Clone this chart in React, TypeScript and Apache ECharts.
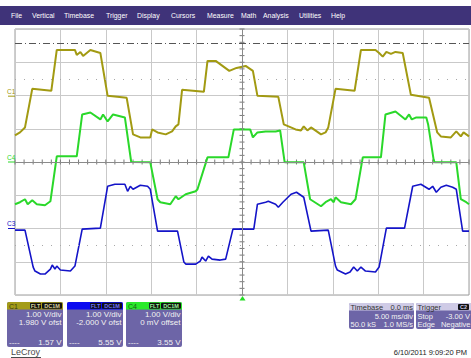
import { useEffect, useRef } from "react";
import * as echarts from "echarts";

// Scope menu
const MENU_ITEMS = ["File", "Vertical", "Timebase", "Trigger", "Display", "Cursors", "Measure", "Math", "Analysis", "Utilities", "Help"];
const MENU_X = [11, 32, 64, 106, 137, 171, 207, 241, 263, 299, 331];

// Channel settings (V/div = 1.00 for all shown channels)
const C1_OFFSET = 1.98;
const C3_OFFSET = -2.0;
const C4_OFFSET = 0;
const TRIGGER_LEVEL_DIV = 3.58;

// Captured traces: [time ms, volts]
const c1Trace: [number, number][] = [
  [-25.0, -1.18], [-24.45, -1.09], [-23.9, -0.94], [-23.1, 0.22], [-21.0, 0.16], [-20.4, 1.39],
  [-18.4, 1.39], [-18.2, 1.24], [-17.8, 1.33], [-17.5, 1.21], [-16.7, 1.39], [-15.6, 1.30],
  [-14.8, 0.01], [-12.7, -0.05], [-12.0, -1.15], [-11.2, -1.24], [-10.1, -1.24], [-9.9, -1.0],
  [-9.3, -1.09], [-8.4, -1.15], [-7.7, -1.06], [-7.3, -0.91], [-7.0, -0.85], [-6.6, 0.19],
  [-4.2, 0.13], [-3.8, 1.06], [-2.9, 1.06], [-1.4, 0.76], [-0.6, 0.85], [0.4, 0.91], [1.2, 0.76],
  [1.7, 0.01], [4.0, -0.02], [4.6, -0.85], [5.9, -1.0], [6.5, -1.03], [6.8, -0.91], [7.2, -1.03],
  [7.6, -0.94], [8.7, -1.15], [9.2, -1.09], [9.5, -0.94], [10.3, 0.22], [12.4, 0.16], [13.1, 1.39],
  [14.7, 1.39], [15.1, 1.30], [15.5, 1.19], [15.9, 1.33], [16.4, 1.27], [16.9, 1.33], [17.7, 1.30],
  [18.6, 0.04], [20.6, -0.05], [21.5, -1.09], [21.9, -1.21], [23.0, -1.24], [23.6, -1.06],
  [24.1, -1.21], [24.4, -1.09], [25.0, -1.21],
];

const c4Trace: [number, number][] = [
  [-25.0, -1.27], [-24.45, -1.21], [-23.9, -1.12], [-23.6, -1.27], [-23.1, -1.15], [-22.6, -1.27],
  [-21.7, -1.30], [-21.1, -1.18], [-20.4, 0.17], [-18.2, 0.17], [-17.6, 1.43], [-16.7, 1.49],
  [-15.6, 1.28], [-15.3, 1.43], [-14.8, 1.22], [-14.2, 1.43], [-12.9, 1.34], [-12.2, 0.0],
  [-10.1, -0.01], [-9.3, -1.12], [-9.0, -1.21], [-7.9, -1.27], [-7.3, -1.03], [-7.0, -1.12],
  [-6.2, -0.97], [-5.1, -0.88], [-4.9, -0.82], [-3.8, 0.14], [-1.5, 0.14], [-0.9, 0.98],
  [0.4, 0.98], [0.9, 0.98], [1.2, 0.74], [1.7, 0.89], [2.6, 0.92], [3.7, 0.92], [4.2, 0.95],
  [4.7, -0.01], [6.8, -0.01], [7.5, -1.12], [8.7, -1.33], [9.2, -1.21], [9.8, -1.12], [10.1, -1.21],
  [10.3, -1.06], [10.9, -1.21], [12.0, -1.27], [12.5, -1.12], [13.3, 0.14], [15.3, 0.14],
  [15.8, 1.43], [16.9, 1.52], [18.0, 1.28], [18.4, 1.43], [18.7, 1.28], [19.2, 1.34], [20.3, 1.34],
  [20.5, 1.13], [21.1, 0.08], [21.2, -0.01], [23.6, -0.01], [24.1, -1.12], [24.7, -1.21], [25.0, -1.27],
];

const c3Trace: [number, number][] = [
  [-25.0, -0.05], [-23.9, -0.05], [-23.0, -1.16], [-22.8, -1.28], [-22.2, -1.37], [-21.7, -1.37],
  [-21.1, -1.22], [-20.9, -1.10], [-20.6, -1.22], [-20.4, -1.13], [-20.0, -1.25], [-18.9, -1.28],
  [-18.4, -1.13], [-17.6, -0.02], [-15.6, 0.01], [-14.8, 1.27], [-14.0, 1.33], [-12.9, 1.33],
  [-12.6, 1.12], [-12.3, 1.27], [-12.0, 1.18], [-11.2, 1.30], [-10.4, 1.27], [-10.1, 1.18],
  [-9.3, -0.08], [-7.1, -0.08], [-6.4, -1.01], [-6.2, -1.07], [-5.1, -1.07], [-4.6, -0.98],
  [-4.4, -0.86], [-4.0, -0.98], [-3.7, -0.83], [-3.3, -0.92], [-2.4, -0.95], [-1.8, -0.92],
  [-1.0, -0.02], [1.3, -0.02], [1.7, 0.73], [2.6, 0.79], [2.9, 0.82], [3.7, 0.73], [4.0, 0.64],
  [4.5, 0.79], [5.4, 1.03], [6.0, 1.09], [6.8, 0.94], [7.6, -0.08], [9.5, -0.05], [10.3, -1.13],
  [10.5, -1.25], [11.4, -1.37], [11.9, -1.31], [12.3, -1.16], [12.7, -1.28], [13.1, -1.16],
  [13.6, -1.28], [14.7, -1.31], [15.1, -1.16], [15.9, 0.01], [17.9, 0.01], [18.8, 1.27],
  [19.7, 1.33], [20.6, 1.18], [21.0, 1.27], [21.4, 1.09], [21.9, 1.24], [22.5, 1.30], [23.2, 1.24],
  [23.6, 1.18], [24.3, -0.08], [25.0, -0.08],
];

// Front panel readouts
const CHANNEL_BOXES = [
  { name: "C1", x: 7, header: "#a39c18", nameColor: "#3a3a10", badgeText: "#d9d49a", scale: "1.00 V/div", offset: "1.980 V ofst", reading: "1.57 V" },
  { name: "C3", x: 67, header: "#0b0bf0", nameColor: "#0b0bf0", badgeText: "#7070ff", scale: "1.00 V/div", offset: "-2.000 V ofst", reading: "5.55 V" },
  { name: "C4", x: 126, header: "#2aea2a", nameColor: "#1a5a1a", badgeText: "#9af59a", scale: "1.00 V/div", offset: "0 mV offset", reading: "3.55 V" },
];
const TIMEBASE = { delay: "0.0 ms", scale: "5.00 ms/div", samples: "50.0 kS", rate: "1.0 MS/s" };
const TRIGGER = { source: "C2", mode: "Stop", level: "-3.00 V", type: "Edge", slope: "Negative" };
const TIMESTAMP = "6/10/2011 9:09:20 PM";

const C1_COLOR = "#a29a12";
const C3_COLOR = "#1414c8";
const C4_COLOR = "#2ad82a";

const GRID = { left: 15, top: 29, width: 454, height: 266 };
const DIV_H = GRID.height / 8;
const FONT = '"Liberation Sans", Arial, sans-serif';

const shift = (pts: [number, number][], off: number) => pts.map(([t, v]) => [t, v + off]);

function txt(x: number, y: number, text: string, fill: string, size: number, align = "left", weight = "normal") {
  return {
    type: "text",
    x,
    y,
    z: 20,
    silent: true,
    style: { text, fill, fontSize: size, fontFamily: FONT, fontWeight: weight, align, verticalAlign: "middle" },
  };
}

function buildGraphics() {
  const g: any[] = [];
  // menu bar
  g.push({ type: "rect", z: 10, shape: { x: 0, y: 6, width: 471, height: 19 }, style: { fill: "#3f3379" } });
  MENU_ITEMS.forEach((m, i) => g.push(txt(MENU_X[i], 15.5, m, "#ffffff", 6.9)));

  // channel ground markers on the left
  const markers = [
    { name: "C1", off: C1_OFFSET, color: C1_COLOR },
    { name: "C4", off: C4_OFFSET, color: C4_COLOR },
    { name: "C3", off: C3_OFFSET, color: C3_COLOR },
  ];
  markers.forEach((m) => {
    const gy = GRID.top + (4 - m.off) * DIV_H;
    g.push(txt(7, gy - 5, m.name, m.color, 6.5));
    g.push({ type: "line", z: 20, shape: { x1: 8, y1: gy, x2: 15, y2: gy }, style: { stroke: m.color, lineWidth: 1 } });
  });

  // trigger position marker
  g.push({ type: "polygon", z: 20, shape: { points: [[239.5, 300.5], [245.5, 300.5], [242.5, 296]] }, style: { fill: "#22dd22" } });

  // channel readout boxes
  CHANNEL_BOXES.forEach((b) => {
    const w = 56, y = 302, h = 45;
    g.push({ type: "rect", z: 10, shape: { x: b.x, y, width: w, height: h, r: 2 }, style: { fill: "#6d65a7" } });
    g.push({ type: "rect", z: 11, shape: { x: b.x, y, width: w, height: 7.5, r: [2, 2, 0, 0] }, style: { fill: b.header } });
    g.push(txt(b.x + 2, y + 4, b.name, b.nameColor, 7));
    g.push({ type: "rect", z: 12, shape: { x: b.x + 23, y: y + 0.8, width: 11, height: 6, r: 1 }, style: { fill: "#111111" } });
    g.push({ type: "rect", z: 12, shape: { x: b.x + 35, y: y + 0.8, width: 20, height: 6, r: 1 }, style: { fill: "#111111" } });
    g.push(txt(b.x + 28.5, y + 4, "FLT", b.badgeText, 5.5, "center", "bold"));
    g.push(txt(b.x + 45, y + 4, "DC1M", b.badgeText, 5.5, "center", "bold"));
    g.push(txt(b.x + w - 1.5, y + 12, b.scale, "#f2f2f2", 8, "right"));
    g.push(txt(b.x + w - 1.5, y + 20.5, b.offset, "#f2f2f2", 8, "right"));
    g.push(txt(b.x + 2, y + 40.5, "----", "#f2f2f2", 8));
    g.push(txt(b.x + w - 1.5, y + 40.5, b.reading, "#f2f2f2", 8, "right"));
  });

  // timebase box
  {
    const x = 349, y = 303, w = 65, h = 26;
    g.push({ type: "rect", z: 10, shape: { x, y, width: w, height: h, r: 2 }, style: { fill: "#6d65a7" } });
    g.push({ type: "rect", z: 11, shape: { x, y, width: w, height: 7.5, r: [2, 2, 0, 0] }, style: { fill: "#cfcbe6" } });
    g.push(txt(x + 1.5, y + 4, "Timebase", "#333333", 7.5));
    g.push(txt(x + w - 1, y + 4, TIMEBASE.delay, "#333333", 7.5, "right"));
    g.push(txt(x + w - 1, y + 13, TIMEBASE.scale, "#f2f2f2", 7.5, "right"));
    g.push(txt(x + 1.5, y + 21.5, TIMEBASE.samples, "#f2f2f2", 7.5));
    g.push(txt(x + w - 1, y + 21.5, TIMEBASE.rate, "#f2f2f2", 7.5, "right"));
  }
  // trigger box
  {
    const x = 416, y = 303, w = 60, h = 26;
    g.push({ type: "rect", z: 10, shape: { x, y, width: w, height: h, r: 2 }, style: { fill: "#6d65a7" } });
    g.push({ type: "rect", z: 11, shape: { x, y, width: w, height: 7.5, r: [2, 2, 0, 0] }, style: { fill: "#cfcbe6" } });
    g.push(txt(x + 1.5, y + 4, "Trigger", "#333333", 7.5));
    g.push({ type: "rect", z: 12, shape: { x: 458, y: y + 1, width: 11, height: 6, r: 1 }, style: { fill: "#111111" } });
    g.push(txt(463.5, y + 4, TRIGGER.source, "#cfcbe6", 5.5, "center", "bold"));
    g.push(txt(x + 1.5, y + 13, TRIGGER.mode, "#f2f2f2", 7.5));
    g.push(txt(470, y + 13, TRIGGER.level, "#f2f2f2", 7.5, "right"));
    g.push(txt(x + 1.5, y + 21.5, TRIGGER.type, "#f2f2f2", 7.5));
    g.push(txt(470.5, y + 21.5, TRIGGER.slope, "#f2f2f2", 7.5, "right"));
  }

  // brand and timestamp
  g.push(txt(11, 352, "LeCroy", "#4a4a4a", 9));
  g.push({ type: "line", z: 20, shape: { x1: 11, y1: 357.5, x2: 41, y2: 357.5 }, style: { stroke: "#4a4a4a", lineWidth: 1 } });
  g.push(txt(467, 352, TIMESTAMP, "#222222", 7.5, "right"));
  return g;
}

// minor graticule ticks along the centre axes
const X_TICKS: [number, number][] = [];
for (let t = -25; t <= 25; t += 1) X_TICKS.push([t, 0]);
const Y_TICKS: [number, number][] = [];
for (let k = -20; k <= 20; k += 1) Y_TICKS.push([0, k / 5]);

export default function App() {
  const ref = useRef<HTMLDivElement>(null);
  useEffect(() => {
    if (!ref.current) return;
    const chart = echarts.init(ref.current, undefined, { renderer: "svg" });
    const tickRender = (vertical: boolean) => (_p: any, api: any) => {
      const c = api.coord([api.value(0), api.value(1)]);
      const shape = vertical
        ? { x1: c[0] - 2.5, y1: c[1], x2: c[0] + 2.5, y2: c[1] }
        : { x1: c[0], y1: c[1] - 2.5, x2: c[0], y2: c[1] + 2.5 };
      return { type: "line", shape, style: { stroke: "#7a7a7a", lineWidth: 1 } };
    };
    chart.setOption({
      animation: false,
      backgroundColor: "#ffffff",
      grid: { ...GRID, show: true, borderColor: "#9c9c9c", borderWidth: 1, backgroundColor: "#ffffff" },
      xAxis: {
        type: "value", min: -25, max: 25, interval: 5,
        axisLine: { show: false }, axisTick: { show: false }, axisLabel: { show: false },
        splitLine: { show: true, lineStyle: { color: "#c9c9c9", width: 1 } },
      },
      yAxis: {
        type: "value", min: -4, max: 4, interval: 1,
        axisLine: { show: false }, axisTick: { show: false }, axisLabel: { show: false },
        splitLine: { show: true, lineStyle: { color: "#c9c9c9", width: 1 } },
      },
      series: [
        {
          type: "custom", name: "xticks", data: X_TICKS, renderItem: tickRender(false), z: 1, silent: true,
          markLine: {
            silent: true, symbol: "none", label: { show: false },
            data: [
              { yAxis: 0, lineStyle: { color: "#8a8a8a", type: "solid", width: 1 } },
              { xAxis: 0, lineStyle: { color: "#8a8a8a", type: "solid", width: 1 } },
              { yAxis: 2.5, lineStyle: { color: "#a8a8a8", type: [1, 8], width: 1 } },
              { yAxis: -2.5, lineStyle: { color: "#a8a8a8", type: [1, 8], width: 1 } },
              { yAxis: TRIGGER_LEVEL_DIV, lineStyle: { color: "#555555", type: [7, 3, 1, 3], width: 1 } },
            ],
          },
        },
        { type: "custom", name: "yticks", data: Y_TICKS, renderItem: tickRender(true), z: 1, silent: true },
        {
          type: "line", name: "C4", data: shift(c4Trace, C4_OFFSET), showSymbol: false, symbol: "none", z: 3,
          lineStyle: { color: C4_COLOR, width: 2 },
        },
        {
          type: "line", name: "C1", data: shift(c1Trace, C1_OFFSET), showSymbol: false, symbol: "none", z: 3,
          lineStyle: { color: C1_COLOR, width: 2 },
        },
        {
          type: "line", name: "C3", data: shift(c3Trace, C3_OFFSET), showSymbol: false, symbol: "none", z: 3,
          lineStyle: { color: C3_COLOR, width: 1.6 },
        },
      ],
      graphic: buildGraphics(),
    });
    return () => chart.dispose();
  }, []);
  return <div ref={ref} style={{ position: "fixed", left: 0, top: 0, width: 471, height: 358 }} />;
}
